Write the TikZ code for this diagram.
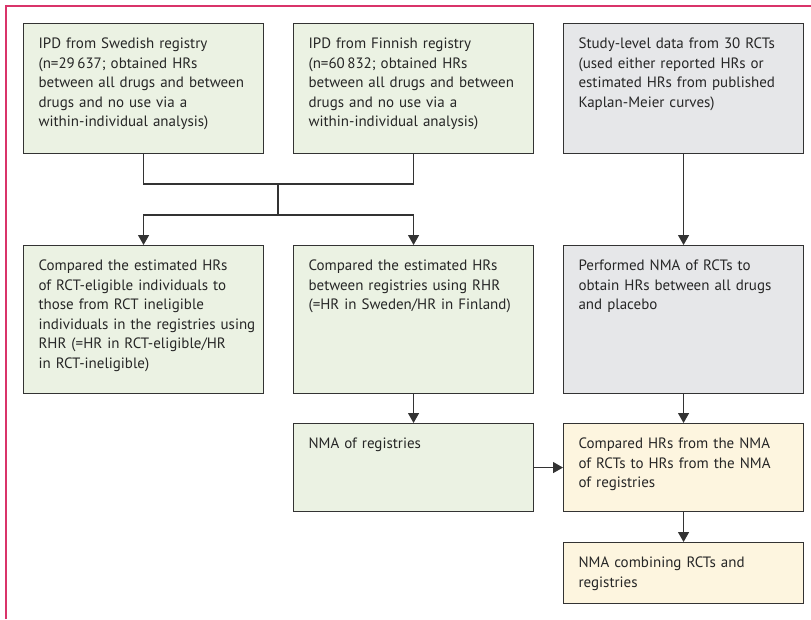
\documentclass[tikz,border=0pt]{standalone}
\usepackage{fontspec}
\setmainfont{PT Sans}
\usepackage{tikz}
\usetikzlibrary{arrows.meta}
\definecolor{frameRed}{HTML}{D9346A}
\definecolor{regGreen}{HTML}{EBF2E3}
\definecolor{rctGrey}{HTML}{E6E7E9}
\definecolor{mixYellow}{HTML}{FDF5DF}
\definecolor{lineDark}{HTML}{333333}
\tikzset{stage/.style = {draw=lineDark, line width=1.1pt, anchor=north west,
                         text width=210pt, inner xsep=15pt, inner ysep=0pt,
                         text height=25pt, align=left, text=black!85,
                         font=\fontsize{15}{19.5}\selectfont},
         arr/.style = {-{Triangle[width=11pt,length=10pt]}, draw=lineDark, line width=1.3pt},
         link/.style = {draw=lineDark, line width=1.3pt}}

\begin{document}
\begin{tikzpicture}[x=1pt, y=-1pt]
  \useasboundingbox (0,0) rectangle (811,619);
  \draw[frameRed, line width=1.3pt] (6,619) -- (6,6) -- (811,6);
    \node[stage, fill=regGreen, text depth=105pt] (swe) at (23,23)
      {IPD from Swedish registry\\(n=29\,637; obtained HRs\\between all drugs and between\\drugs and no use via a\\within-individual analysis)};
    \node[stage, fill=regGreen, text depth=105pt] (fin) at (293,23)
      {IPD from Finnish registry\\(n=60\,832; obtained HRs\\between all drugs and between\\drugs and no use via a\\within-individual analysis)};
    \node[stage, fill=rctGrey, text depth=105pt] (rct) at (563,23)
      {Study-level data from 30 RCTs\\(used either reported HRs or\\estimated HRs from published\\Kaplan-Meier curves)};
    \node[stage, fill=regGreen, text depth=123pt] (elig) at (23,245)
      {Compared the estimated HRs\\of RCT-eligible individuals to\\those from RCT ineligible\\\mbox{individuals in the registries using}\\RHR (=HR in RCT-eligible/HR\\in RCT-ineligible)};
    \node[stage, fill=regGreen, text depth=123pt] (betw) at (293,245)
      {Compared the estimated HRs\\between registries using RHR\\(=HR in Sweden/HR in Finland)};
    \node[stage, fill=rctGrey, text depth=123pt] (nmarct) at (563,245)
      {Performed NMA of RCTs to\\obtain HRs between all drugs\\and placebo};
    \node[stage, fill=regGreen, text depth=63pt] (nmareg) at (293,423)
      {NMA of registries};
    \node[stage, fill=mixYellow, text depth=63pt] (cmpnma) at (563,423)
      {Compared HRs from the NMA\\of RCTs to HRs from the NMA\\of registries};
    \node[stage, fill=mixYellow, text depth=36pt] (comb) at (563,542)
      {NMA combining RCTs and\\registries};
    \coordinate (join) at (278,184);
    \coordinate (split) at (278,215);
    \draw[link] (swe.south) |- (join) -| (fin.south);
    \draw[link] (join) -- (split);
    \draw[arr] (split) -| (elig.north);
    \draw[arr] (split) -| (betw.north);
    \draw[arr] (rct.south) -- (nmarct.north);
    \draw[arr] (betw.south) -- (nmareg.north);
    \draw[arr] (nmarct.south) -- (cmpnma.north);
    \draw[arr] (nmareg.east) -- (cmpnma.west);
    \draw[arr] (cmpnma.south) -- (comb.north);
  \end{tikzpicture}
\end{document}
